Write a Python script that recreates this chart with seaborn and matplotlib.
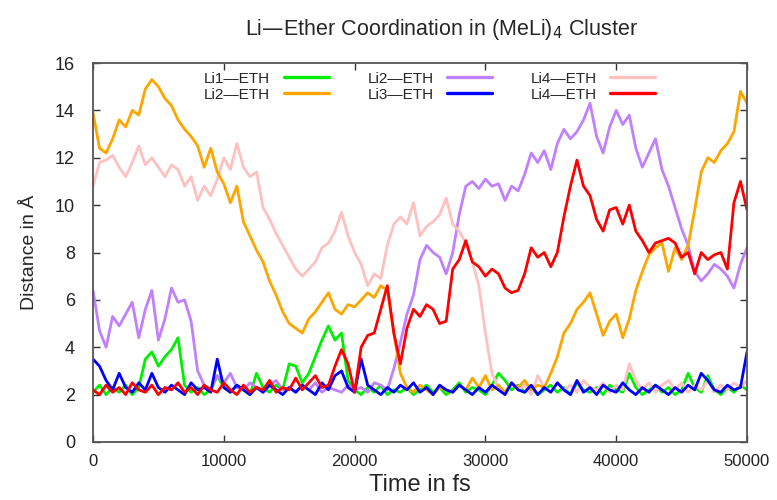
import numpy as np
import pandas as pd
import matplotlib
matplotlib.use("Agg")
import matplotlib.pyplot as plt
import seaborn as sns

# time axis, one reading every 500 fs
time_fs = np.arange(0, 50001, 500)

# distances (Angstrom)
li1_eth = [2.1, 2.4, 2.0, 2.3, 2.1, 2.4, 2.0, 2.3, 3.5, 3.8,
           3.2, 3.6, 3.9, 4.4, 2.4, 2.1, 2.3, 2.0, 2.2, 2.8,
           2.3, 2.1, 2.4, 2.2, 2.0, 2.9, 2.3, 2.1, 2.4, 2.2,
           3.3, 3.2, 2.5, 2.9, 3.6, 4.3, 4.9, 4.3, 4.6, 2.6,
           2.2, 2.0, 2.3, 2.1, 2.4, 2.0, 2.2, 2.1, 2.3, 2.0,
           2.2, 2.4, 2.1, 2.3, 2.0, 2.2, 2.5, 2.1, 2.3, 2.2,
           2.0, 2.4, 2.9, 2.6, 2.2, 2.4, 2.1, 2.3, 2.0, 2.2,
           2.4, 2.1, 2.3, 2.0, 2.5, 2.2, 2.1, 2.3, 2.0, 2.4,
           2.2, 2.1, 2.9, 2.3, 2.0, 2.2, 2.4, 2.1, 2.3, 2.0,
           2.2, 2.9, 2.3, 2.1, 2.8, 2.2, 2.0, 2.3, 2.1, 2.4,
           2.2]

li2_eth_a = [6.4, 4.7, 4.0, 5.3, 4.9, 5.4, 5.9, 4.4, 5.6, 6.4,
             4.3, 5.2, 6.5, 5.9, 6.0, 5.1, 3.0, 2.4, 2.2, 2.8,
             2.5, 2.9, 2.3, 2.2, 2.5, 2.3, 2.1, 2.4, 2.6, 2.2,
             2.3, 2.1, 2.4, 2.2, 2.5, 2.1, 2.3, 2.2, 2.1, 2.4,
             2.2, 2.3, 2.1, 2.5, 2.4, 2.2, 3.1, 4.2, 5.4, 6.2,
             7.7, 8.3, 8.0, 7.8, 7.1, 8.0, 9.6, 10.8, 11.0, 10.7,
             11.1, 10.8, 10.9, 10.2, 10.8, 10.6, 11.3, 12.2, 11.8, 12.3,
             11.5, 12.6, 13.2, 12.8, 13.1, 13.6, 14.3, 12.9, 12.2, 13.3,
             14.0, 13.4, 13.8, 12.4, 11.6, 12.2, 12.8, 11.5, 10.8, 9.9,
             9.0, 8.3, 7.2, 6.8, 7.1, 7.5, 7.3, 7.0, 6.5, 7.5,
             8.2]

li2_eth_b = [13.9, 12.4, 12.2, 12.8, 13.6, 13.3, 14.0, 13.8, 14.9, 15.3,
             15.0, 14.5, 14.2, 13.6, 13.2, 12.9, 12.5, 11.6, 12.4, 11.4,
             10.9, 10.1, 10.8, 9.3, 8.7, 8.1, 7.6, 6.8, 6.2, 5.5,
             5.0, 4.8, 4.6, 5.2, 5.5, 5.9, 6.3, 5.6, 5.4, 5.8,
             5.7, 6.0, 6.3, 6.1, 6.6, 6.4, 4.6, 2.9, 2.3, 2.1,
             2.4, 2.2, 2.0, 2.3, 2.2, 2.1, 2.4, 2.2, 2.7, 2.3,
             2.8, 2.2, 2.4, 2.1, 2.5, 2.3, 2.6, 2.2, 2.4, 2.3,
             2.9, 3.6, 4.6, 5.0, 5.6, 5.9, 6.3, 5.4, 4.5, 5.1,
             5.4, 4.4, 5.2, 6.4, 7.2, 7.9, 8.2, 8.4, 7.2, 8.2,
             7.7, 8.3, 9.8, 11.4, 12.0, 11.8, 12.3, 12.6, 13.1, 14.8,
             14.3]

li3_eth = [3.5, 3.2, 2.6, 2.2, 2.9, 2.3, 2.1, 2.5, 2.2, 2.9,
           2.3, 2.1, 2.4, 2.2, 2.0, 2.5, 2.2, 2.3, 2.1, 3.5,
           2.3, 2.1, 2.4, 2.2, 2.0, 2.3, 2.1, 2.4, 2.2, 2.0,
           2.3, 2.1, 2.4, 2.2, 2.0, 2.5, 2.2, 2.8, 3.0, 2.3,
           2.1, 3.5, 2.4, 2.2, 2.0, 2.3, 2.1, 2.4, 2.2, 2.5,
           2.1, 2.3, 2.0, 2.4, 2.2, 2.1, 2.4, 2.2, 2.0, 2.3,
           2.1, 2.4, 2.2, 2.0, 2.5, 2.2, 2.1, 2.4, 2.0, 2.3,
           2.1, 2.5, 2.2, 2.0, 2.6, 2.1, 2.3, 2.0, 2.4, 2.2,
           2.1, 2.5, 2.2, 2.0, 2.3, 2.1, 2.4, 2.2, 2.0, 2.3,
           2.1, 2.4, 2.2, 2.9, 2.6, 2.2, 2.1, 2.4, 2.2, 2.3,
           3.8]

li4_eth_a = [10.8, 11.8, 11.9, 12.1, 11.6, 11.2, 11.8, 12.5, 11.7, 12.0,
             11.6, 11.2, 11.7, 11.5, 10.8, 11.2, 10.2, 10.8, 10.4, 11.1,
             12.0, 11.5, 12.6, 11.6, 11.2, 11.4, 9.9, 9.4, 8.8, 8.3,
             7.8, 7.3, 7.0, 7.3, 7.6, 8.2, 8.4, 8.9, 9.7, 8.7,
             8.0, 7.5, 6.6, 7.1, 6.9, 8.3, 9.2, 9.5, 9.2, 10.1,
             8.7, 9.1, 9.3, 9.6, 10.3, 9.2, 8.9, 8.4, 7.6, 6.6,
             4.6, 2.9, 2.3, 2.1, 2.5, 2.2, 2.4, 2.0, 2.8, 2.3,
             2.1, 2.5, 2.2, 2.4, 2.1, 2.6, 2.3, 2.2, 2.5, 2.1,
             2.4, 2.2, 3.3, 2.6, 2.2, 2.5, 2.1, 2.4, 2.6, 2.2,
             2.5, 2.1, 2.4, 2.2, 2.6, 2.1, 2.4, 2.2, 2.5, 2.3,
             2.6]

li4_eth_b = [2.2, 2.0, 2.4, 2.1, 2.3, 2.0, 2.5, 2.2, 2.1, 2.4,
             2.0, 2.3, 2.2, 2.5, 2.1, 2.3, 2.0, 2.4, 2.2, 2.1,
             2.5, 2.2, 2.0, 2.4, 2.1, 2.3, 2.2, 2.6, 2.1, 2.3,
             2.2, 2.7, 2.2, 2.5, 2.8, 2.3, 2.4, 3.2, 3.9, 3.3,
             2.1, 4.0, 4.5, 4.6, 5.6, 6.6, 4.6, 3.3, 4.8, 5.6,
             5.3, 5.8, 5.6, 5.0, 5.1, 7.3, 7.7, 8.5, 7.6, 7.4,
             7.0, 7.3, 7.1, 6.5, 6.3, 6.4, 7.1, 8.2, 7.8, 8.0,
             7.4, 8.0, 9.5, 10.8, 11.9, 10.8, 10.4, 9.4, 8.9, 9.8,
             9.9, 9.2, 10.0, 8.9, 8.5, 8.0, 8.4, 8.5, 8.6, 8.4,
             7.8, 8.0, 7.1, 8.0, 7.7, 7.9, 8.0, 7.3, 10.1, 11.0,
             9.8]

# plot order as in the original, legend fills row by row
series = [
    ("Li1—ETH", li1_eth, "#00ee00"),
    ("Li2—ETH", li2_eth_a, "#c080ff"),
    ("Li4—ETH", li4_eth_a, "#ffc0c0"),
    ("Li2—ETH", li2_eth_b, "#ffa500"),
    ("Li3—ETH", li3_eth, "#0000ff"),
    ("Li4—ETH", li4_eth_b, "#ff0000"),
]

sns.set_style("ticks")
plt.rcParams["font.family"] = ["Liberation Sans", "DejaVu Sans"]

fig = plt.figure(figsize=(7.77, 5.0), dpi=100)
ax = fig.add_axes([0.1197, 0.116, 0.8417, 0.758])

handles = []
for name, vals, col in series:
    df = pd.DataFrame({"time": time_fs, "dist": vals})
    sns.lineplot(data=df, x="time", y="dist", color=col, linewidth=2.0,
                 ax=ax, estimator=None, sort=False)
    handles.append((ax.lines[-1], name))

ax.set_xlim(0, 50000)
ax.set_ylim(0, 16)
ax.set_xticks(np.arange(0, 50001, 10000))
ax.set_yticks(np.arange(0, 17, 2))
ax.tick_params(direction="in", top=True, right=True, length=5, width=1,
               colors="#333333", labelcolor="#222222")
ax.tick_params(axis="x", labelsize=12, pad=9)
ax.tick_params(axis="y", labelsize=13, pad=13)
for sp in ax.spines.values():
    sp.set_color("#555555")
    sp.set_linewidth(1.3)

ax.set_xlabel("Time in fs", fontsize=17, labelpad=3)
ax.set_ylabel("Distance in Å", fontsize=14, labelpad=12)
fig.text(0.569, 0.94, "Li—Ether Coordination in (MeLi)$_4$ Cluster",
         ha="center", va="center", fontsize=15.5)

# matplotlib fills legend columns first, so reorder to get gnuplot's rows
order = [0, 3, 1, 4, 2, 5]
leg = ax.legend([handles[i][0] for i in order], [handles[i][1] for i in order],
                ncol=3, loc="upper center", bbox_to_anchor=(0.515, 1.005),
                frameon=False, fontsize=11, markerfirst=False,
                handlelength=2.95, columnspacing=2.5, labelspacing=0.12,
                handletextpad=0.9, borderaxespad=0.3)
for line in leg.get_lines():
    line.set_linewidth(2.4)

fig.savefig("out.png", dpi=100)
